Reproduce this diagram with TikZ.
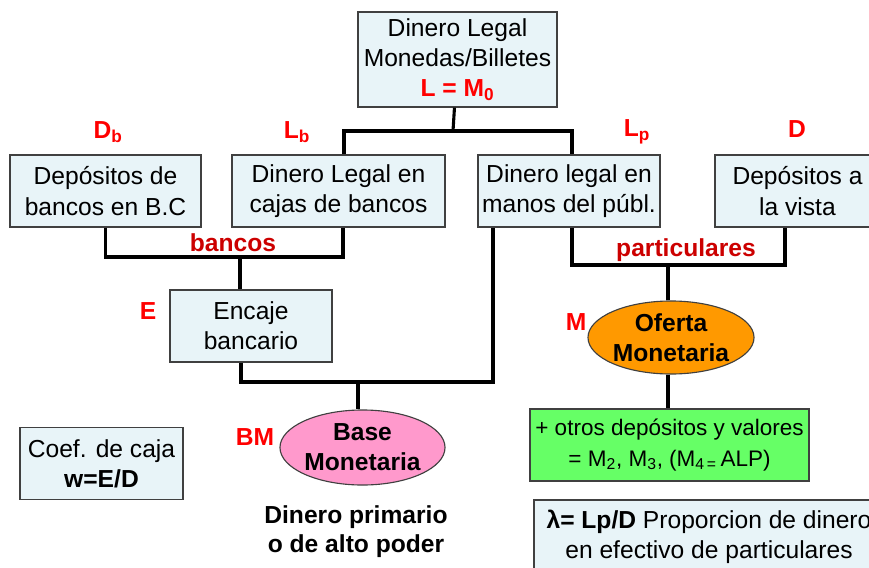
\documentclass[tikz,border=0pt]{standalone}
\usepackage{fontspec}
\setmainfont{Liberation Sans}
\usetikzlibrary{shapes.geometric}
\definecolor{BoxBlue}{RGB}{232,244,248}
\definecolor{BaseRosa}{RGB}{255,153,204}
\definecolor{OfertaNaranja}{RGB}{255,153,0}
\definecolor{OtrosVerde}{RGB}{102,255,102}
\definecolor{EtiqRojo}{RGB}{255,0,0}
\definecolor{GrupoRojo}{RGB}{204,0,0}
\definecolor{Borde}{RGB}{64,64,64}

\begin{document}
\begin{tikzpicture}[x=0.025cm, y=-0.025cm,
        caja/.style={draw=Borde, line width=0.8pt, fill=BoxBlue, minimum height=1.8cm, inner sep=0pt, align=center, font=\fontsize{17.5}{21.5}\selectfont},
        ovalo/.style={ellipse, draw=Borde, line width=0.8pt, inner sep=0pt, align=center, font=\fontsize{17.5}{21.5}\selectfont\bfseries},
        etiq/.style={text=EtiqRojo, font=\fontsize{17.5}{21.5}\selectfont\bfseries},
        grupo/.style={text=GrupoRojo, font=\fontsize{17.5}{21.5}\selectfont\bfseries},
        link/.style={line width=2.2pt}
    ]
        \clip (0,0) rectangle (869,567);

        % cajas
        \node[caja, minimum width=4.975cm, minimum height=2.375cm] (legal) at (457.5,59.5)
            {Dinero Legal\\Monedas/Billetes\\{\color{EtiqRojo}\bfseries L = M\textsubscript{0}}};
        \node[caja, minimum width=4.775cm] (db) at (105.5,191) {Depósitos de\\bancos en B.C};
        \node[caja, minimum width=5.325cm] (lb) at (338.5,191) {Dinero Legal en\\cajas de bancos};
        \node[caja, minimum width=4.55cm] (lp) at (569,191) {Dinero legal en\\manos del públ.};
        \node[caja, minimum width=4.125cm] (vista) at (797.5,191) {Depósitos a\\la vista};
        \node[caja, minimum width=4.05cm] (encaje) at (251,326) {Encaje\\bancario};
        \node[caja, minimum width=4.075cm] (coef) at (101.5,463.5) {Coef. de caja\\\textbf{w=E/D}};
        \node[caja, fill=OtrosVerde, minimum width=6.975cm, font=\fontsize{16}{21.5}\selectfont] (otros) at (669.5,445)
            {+ otros depósitos y valores\\= M\textsubscript{2}, M\textsubscript{3}, (M\textsubscript{4\,=}\,ALP)};
        \node[caja, minimum width=8.75cm, minimum height=1.85cm] (lambda) at (709,537)
            {\textbf{λ= Lp/D} Proporcion de dinero\\en efectivo de particulares};

        % ovalos
        \node[ovalo, fill=BaseRosa, minimum width=4.125cm, minimum height=1.875cm] (bm) at (362.5,447.5) {Base\\Monetaria};
        \node[ovalo, fill=OfertaNaranja, minimum width=4.15cm, minimum height=1.825cm] (om) at (671,337.5) {Oferta\\Monetaria};

        % etiquetas
        \node[etiq] (lDb) at (108,132) {D\textsubscript{b}};
        \node[etiq] (lLb) at (297,132) {L\textsubscript{b}};
        \node[etiq] (lLp) at (637,132) {L\textsubscript{p}};
        \node[etiq] (lD) at (797,129) {D};
        \node[etiq] (lE) at (148,311) {E};
        \node[etiq] (lBM) at (255,437) {BM};
        \node[etiq] (lM) at (576,322) {M};
        \node[grupo] (gBancos) at (233,243) {bancos};
        \node[grupo] (gPart) at (686,250) {particulares};
        \node[align=center, font=\fontsize{17.5}{20.6}\selectfont\bfseries] (primario) at (356,532)
            {Dinero primario\\o de alto poder};

        % uniones
        \coordinate (j1) at (453,131);
        \coordinate (j2) at (240,257);
        \coordinate (j3) at (358,382);
        \coordinate (j4) at (668,265);

        \draw[link] (legal) -- (j1);
        \draw[link] (lb.north -| 344,0) |- (j1) -| (lp.north -| 572,0);
        \draw[link] (db.south) |- (j2) -| (lb.south -| 343,0);
        \draw[link] (j2) -- (j2 |- encaje.north);
        \draw[link] (encaje.south -| 241,0) |- (j3) -| (lp.south -| 493,0);
        \draw[link] (j3) -- (j3 |- bm.north);
        \draw[link] (lp.south -| 572,0) |- (j4) -| (vista.south -| 785,0);
        \draw[link] (j4) -- (j4 |- om.north);
        \draw[link] (om.south -| j4) -- (j4 |- otros.north);
    \end{tikzpicture}
\end{document}
